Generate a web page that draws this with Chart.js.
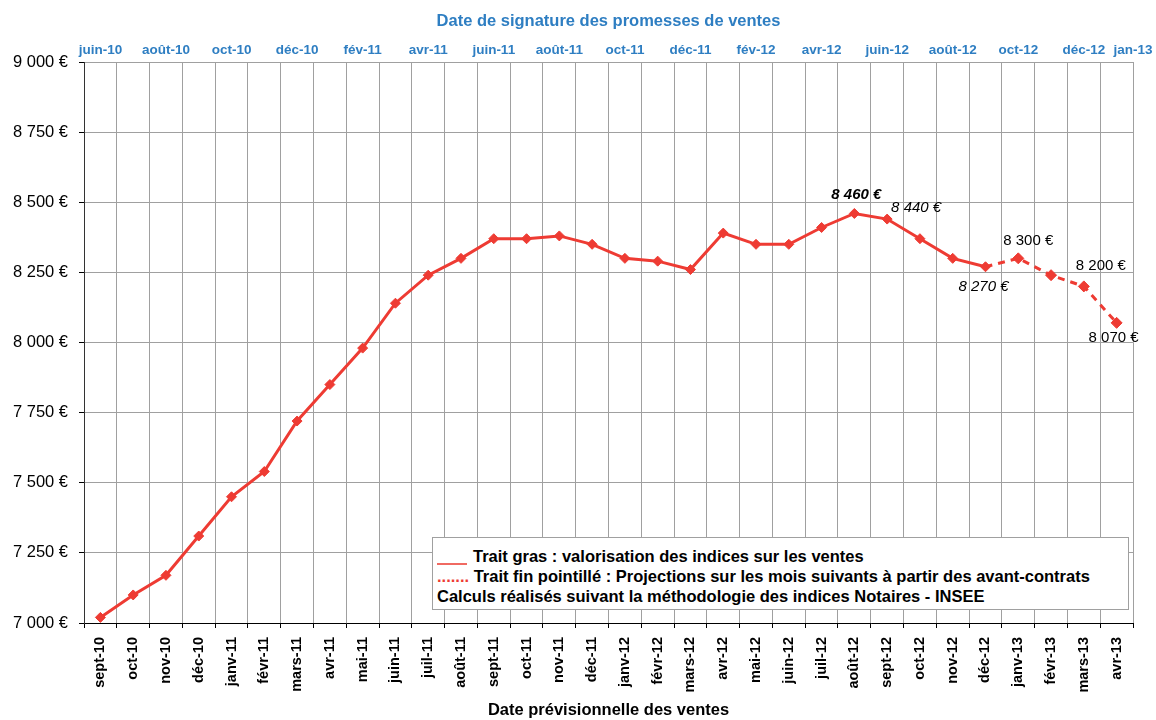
<!DOCTYPE html>
<html>
<head>
<meta charset="utf-8">
<script src="https://cdn.jsdelivr.net/npm/chart.js@4.4.1/dist/chart.umd.min.js"></script>
<style>
  html, body { margin: 0; padding: 0; background: #ffffff; }
  #wrap { position: relative; width: 1156px; height: 720px; }
  #c { position: absolute; left: 0; top: 0; }
  #note {
    position: absolute; left: 432px; top: 537px; width: 697px; height: 73px;
    background: #ffffff; border: 1px solid #a0a0a0; box-sizing: border-box;
    font-family: "Liberation Sans", Arial, sans-serif; font-weight: bold; font-size: 16.5px; color: #000;
  }
  #note div { position: absolute; left: 4px; white-space: nowrap; line-height: 19px; }
  .red { color: #ee3b33; }
  .sw { display: inline-block; width: 30px; height: 2px; background: #f06a62; vertical-align: -3px; margin-right: 6px; }
</style>
</head>
<body>
<div id="wrap">
  <canvas id="c" width="1156" height="720"></canvas>
  <div id="note">
    <div style="top:9px"><span class="sw"></span>Trait gras : valorisation des indices sur les ventes</div>
    <div style="top:29px"><span class="red">.......</span> Trait fin pointillé : Projections sur les mois suivants à partir des avant-contrats</div>
    <div style="top:49px">Calculs réalisés suivant la méthodologie des indices Notaires - INSEE</div>
  </div>
</div>
<script>
const months = ["sept-10","oct-10","nov-10","déc-10","janv-11","févr-11","mars-11","avr-11","mai-11","juin-11","juil-11","août-11","sept-11","oct-11","nov-11","déc-11","janv-12","févr-12","mars-12","avr-12","mai-12","juin-12","juil-12","août-12","sept-12","oct-12","nov-12","déc-12","janv-13","févr-13","mars-13","avr-13"];
const signatureLabels = ["juin-10","","août-10","","oct-10","","déc-10","","fév-11","","avr-11","","juin-11","","août-11","","oct-11","","déc-11","","fév-12","","avr-12","","juin-12","","août-12","","oct-12","","déc-12","jan-13"];
const valorisation = [7020,7100,7170,7310,7450,7540,7720,7850,7980,8140,8240,8300,8370,8370,8380,8350,8300,8290,8260,8390,8350,8350,8410,8460,8440,8370,8300,8270,null,null,null,null];
const projection = [null,null,null,null,null,null,null,null,null,null,null,null,null,null,null,null,null,null,null,null,null,null,null,null,null,null,null,8270,8300,8240,8200,8070];
const yTicks = { min: 7000, max: 9000, step: 250 };

const FONT = "'Liberation Sans', Arial, sans-serif";
const RED = '#ee3b33';
const BLUE = '#2e7ec2';
const GRID = '#a0a0a0';

function fmtEuro(v) {
  return String(Math.round(v)).replace(/\B(?=(\d{3})+(?!\d))/g, ' ') + ' €';
}

const valueLabels = {
  id: 'valueLabels',
  afterDatasetsDraw(chart, args, opts) {
    const ctx = chart.ctx;
    ctx.save();
    ctx.textAlign = 'center';
    ctx.textBaseline = 'middle';
    ctx.fillStyle = '#000';
    opts.items.forEach(it => {
      const pt = chart.getDatasetMeta(it.ds).data[it.idx];
      const v = chart.data.datasets[it.ds].data[it.idx];
      ctx.font = it.font + ' 15px ' + FONT;
      ctx.fillText(fmtEuro(v), pt.x + it.dx, pt.y + it.dy);
    });
    ctx.restore();
  }
};

const lastSig = signatureLabels.length - 1;

new Chart(document.getElementById('c'), {
  type: 'line',
  data: {
    labels: months,
    datasets: [
      {
        data: valorisation,
        borderColor: RED, backgroundColor: RED,
        borderWidth: 3,
        pointStyle: 'rectRot', pointRadius: 5,
        pointBorderWidth: 1, pointBackgroundColor: RED, pointBorderColor: RED,
        tension: 0, spanGaps: false,
        xAxisID: 'x', yAxisID: 'y'
      },
      {
        data: projection,
        borderColor: RED, backgroundColor: RED,
        borderWidth: 3, borderDash: [7, 6],
        pointStyle: 'rectRot',
        pointRadius: projection.map((v, i) => (v === null || i === 27) ? 0 : 5.5),
        pointBorderWidth: 1, pointBackgroundColor: RED, pointBorderColor: RED,
        tension: 0,
        xAxisID: 'x', yAxisID: 'y'
      }
    ]
  },
  options: {
    responsive: false,
    animation: false,
    events: [],
    layout: { padding: { left: 0, right: 23, top: 0, bottom: 0 } },
    plugins: {
      legend: { display: false },
      tooltip: { enabled: false },
      valueLabels: {
        items: [
          { ds: 0, idx: 23, dx: 2, dy: -19, font: 'italic bold' },
          { ds: 0, idx: 24, dx: 29, dy: -11, font: 'italic' },
          { ds: 0, idx: 27, dx: -2, dy: 20, font: 'italic' },
          { ds: 1, idx: 28, dx: 10, dy: -17, font: 'normal' },
          { ds: 1, idx: 30, dx: 17, dy: -21, font: 'normal' },
          { ds: 1, idx: 31, dx: -3, dy: 15, font: 'normal' }
        ]
      }
    },
    scales: {
      x: {
        type: 'category',
        position: 'bottom',
        offset: true,
        grid: { offset: true, color: GRID, lineWidth: 1, tickLength: 5, tickColor: '#000' },
        border: { color: '#000', width: 1 },
        ticks: {
          autoSkip: false, minRotation: 90, maxRotation: 90, padding: 9,
          color: '#000', font: { family: FONT, size: 14.5, weight: 'bold' }
        },
        title: {
          display: true, text: 'Date prévisionnelle des ventes', color: '#000',
          font: { family: FONT, size: 16.5, weight: 'bold' }, padding: { top: 0, bottom: 0 }
        },
        afterFit(s) { s.height = 97; }
      },
      x2: {
        type: 'linear',
        position: 'top',
        min: -0.5, max: months.length - 0.5,
        afterBuildTicks(s) {
          s.ticks = signatureLabels
            .map((l, i) => ({ l, i }))
            .filter(o => o.l !== '')
            .map(o => ({ value: o.i === lastSig ? o.i + 0.5 : o.i }));
        },
        grid: { display: false, drawOnChartArea: false },
        border: { display: false },
        ticks: {
          autoSkip: false, minRotation: 0, maxRotation: 0, padding: -4,
          color: BLUE, font: { family: FONT, size: 13.5, weight: 'bold' },
          callback: v => signatureLabels[Math.floor(v)]
        },
        title: {
          display: true, text: 'Date de signature des promesses de ventes', color: BLUE,
          font: { family: FONT, size: 16.5, weight: 'bold' }, padding: { top: 12, bottom: 0 }
        },
        afterFit(s) { s.height = 62; }
      },
      y: {
        type: 'linear',
        min: yTicks.min, max: yTicks.max,
        grid: { color: GRID, lineWidth: 1, tickLength: 5, tickColor: '#000' },
        border: { color: '#333', width: 1 },
        ticks: {
          stepSize: yTicks.step, padding: 11, color: '#000',
          font: { family: FONT, size: 16.5 },
          callback: v => fmtEuro(v)
        },
        afterFit(s) { s.width = 84; }
      }
    }
  },
  plugins: [valueLabels]
});
</script>
</body>
</html>
